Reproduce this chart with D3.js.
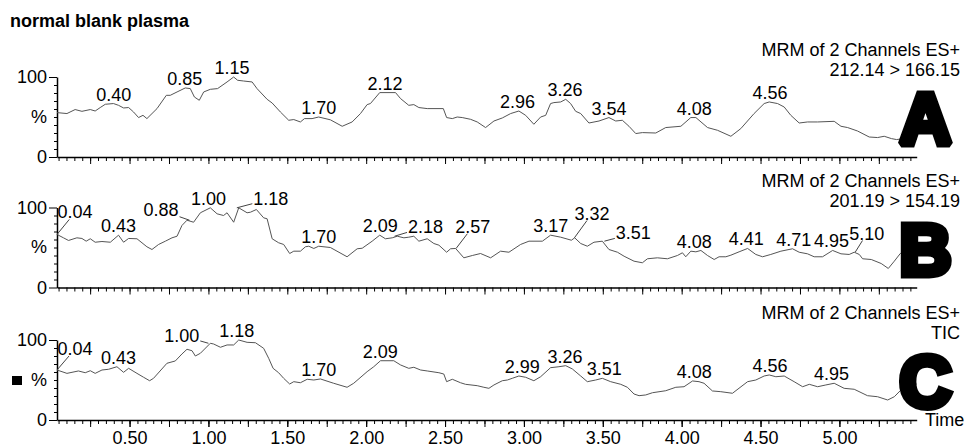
<!DOCTYPE html>
<html>
<head>
<meta charset="utf-8">
<script src="https://cdnjs.cloudflare.com/ajax/libs/d3/7.8.5/d3.min.js"></script>
<style>
    body { margin: 0; background: #fff; }
    svg text { font-family: "Liberation Sans", Arial, Helvetica, sans-serif; }
</style>
</head>
<body>
<div id="chart"></div>
<script>

/* * * * * * * * * * * * * *
*      chromatograms       *
* * * * * * * * * * * * * */

const title = "normal blank plasma";

// trace A : 212.14 > 166.15
const timeA = [0.04, 0.103, 0.155, 0.198, 0.251, 0.282, 0.314, 0.346, 0.398, 0.430, 0.462, 0.494, 0.525, 0.557, 0.585, 0.610,
    0.674, 0.733, 0.758, 0.801, 0.853, 0.885, 0.911, 0.942, 0.970, 1.012, 1.058, 1.118, 1.160, 1.185, 1.223, 1.277, 1.308,
    1.372, 1.404, 1.456, 1.509, 1.541, 1.583, 1.609, 1.657, 1.699, 1.773, 1.848, 1.911, 1.964, 2.006, 2.027, 2.086, 2.186,
    2.218, 2.270, 2.302, 2.334, 2.387, 2.489, 2.510, 2.546, 2.577, 2.609, 2.662, 2.704, 2.757, 2.810, 2.863, 2.916, 2.968,
    3.011, 3.063, 3.106, 3.138, 3.169, 3.190, 3.233, 3.265, 3.296, 3.328, 3.360, 3.412, 3.476, 3.539, 3.582, 3.624, 3.666,
    3.709, 3.751, 3.836, 3.899, 3.995, 4.058, 4.090, 4.164, 4.227, 4.312, 4.375, 4.459, 4.523, 4.555, 4.608, 4.650, 4.692,
    4.745, 4.798, 4.862, 4.967, 5.010, 5.052, 5.115, 5.189, 5.242, 5.284, 5.330, 5.362, 5.411, 5.49];
const pctA = [55.5, 54.3, 59.3, 57.1, 59.3, 57.5, 61.8, 65.9, 66.8, 64.6, 61.3, 61.8, 56.3, 49.3, 52.1, 48.0,
    60.5, 77.1, 77.1, 81.3, 86.3, 85.5, 75.0, 70.9, 81.3, 84.6, 85.5, 93.8, 100, 95.9, 95.0, 93.8, 85.5,
    72.1, 67.5, 56.3, 45.9, 46.8, 43.8, 48.0, 48.0, 50.0, 46.5, 38.4, 43.8, 54.3, 65.5, 66.8, 80.5, 80.5,
    73.0, 64.6, 65.5, 61.8, 60.5, 60.5, 49.3, 48.0, 50.0, 49.3, 47.1, 43.8, 36.8, 45.0, 48.8, 54.3, 57.5,
    52.1, 40.9, 50.0, 52.1, 66.8, 68.0, 68.8, 72.1, 66.8, 57.1, 54.3, 42.5, 45.0, 49.3, 45.0, 45.9, 38.4,
    29.3, 30.5, 30.0, 36.8, 38.4, 49.3, 49.3, 36.8, 33.4, 25.9, 35.5, 54.3, 66.8, 68.8, 66.8, 62.5, 52.1,
    42.5, 43.8, 43.8, 44.6, 38.4, 36.8, 32.5, 25.0, 24.3, 25.9, 23.0, 21.8, 23.0, 22.0];
const peaksA = [0.40, 0.85, 1.15, 1.70, 2.12, 2.96, 3.26, 3.54, 4.08, 4.56];

// trace B : 201.19 > 154.19
const timeB = [0.04, 0.081, 0.113, 0.166, 0.198, 0.225, 0.251, 0.282, 0.325, 0.378, 0.430, 0.462, 0.494, 0.547, 0.610, 0.642,
    0.684, 0.727, 0.769, 0.801, 0.832, 0.864, 0.906, 0.949, 1.012, 1.055, 1.096, 1.118, 1.160, 1.192, 1.245, 1.266, 1.304,
    1.350, 1.372, 1.404, 1.445, 1.477, 1.515, 1.541, 1.583, 1.615, 1.636, 1.668, 1.699, 1.773, 1.879, 1.943, 1.975, 2.038,
    2.086, 2.122, 2.165, 2.197, 2.239, 2.270, 2.302, 2.334, 2.387, 2.429, 2.461, 2.510, 2.535, 2.567, 2.619, 2.673, 2.725,
    2.789, 2.852, 2.905, 2.979, 3.032, 3.117, 3.169, 3.233, 3.301, 3.322, 3.360, 3.402, 3.444, 3.497, 3.539, 3.593, 3.635,
    3.698, 3.751, 3.783, 3.846, 3.910, 3.973, 4.005, 4.026, 4.058, 4.090, 4.122, 4.164, 4.206, 4.237, 4.280, 4.312, 4.364,
    4.418, 4.470, 4.513, 4.565, 4.629, 4.703, 4.745, 4.798, 4.840, 4.893, 4.957, 5.010, 5.062, 5.094, 5.126, 5.147, 5.202,
    5.265, 5.310, 5.348, 5.386, 5.49];
const pctB = [66.3, 62.1, 58.8, 62.1, 61.3, 57.9, 60.9, 56.6, 57.5, 56.6, 65.4, 56.6, 61.3, 60.9, 50.9, 47.5,
    53.8, 57.9, 62.1, 64.1, 77.5, 84.1, 81.6, 93.4, 99.6, 92.1, 90.0, 93.4, 81.6, 99.6, 93.4, 94.1, 97.5,
    87.1, 85.9, 60.9, 55.9, 53.8, 42.5, 45.4, 45.4, 50.9, 51.6, 48.8, 51.6, 50.0, 38.4, 48.4, 49.1, 57.9,
    65.4, 60.9, 62.1, 64.1, 62.1, 62.9, 64.1, 57.9, 60.9, 55.0, 52.9, 44.1, 48.4, 48.8, 37.1, 40.0, 42.5,
    37.1, 45.4, 44.1, 53.8, 57.9, 57.9, 65.4, 62.9, 59.1, 62.1, 55.0, 51.6, 56.6, 57.9, 47.5, 44.1, 39.1,
    32.9, 30.9, 35.9, 37.1, 35.9, 40.0, 43.4, 38.4, 45.4, 44.6, 46.3, 40.0, 35.0, 38.4, 38.4, 40.4, 44.6,
    48.8, 41.3, 38.4, 41.3, 45.4, 48.4, 44.1, 42.1, 38.4, 38.4, 46.3, 42.1, 41.3, 44.1, 41.3, 35.9, 35.0,
    30.0, 23.8, 32.9, 42.5, 50.0];
const peaksB = [0.04, 0.43, 0.88, 1.00, 1.18, 1.70, 2.09, 2.18, 2.57, 3.17, 3.32, 3.51, 4.08, 4.41, 4.71, 4.95, 5.10];

// trace C : TIC
const timeC = [0.04, 0.103, 0.176, 0.219, 0.251, 0.282, 0.325, 0.367, 0.420, 0.462, 0.494, 0.547, 0.589, 0.627, 0.652,
    0.737, 0.790, 0.832, 0.864, 0.896, 0.917, 0.949, 1.012, 1.033, 1.076, 1.118, 1.160, 1.192, 1.245, 1.298, 1.350,
    1.382, 1.410, 1.445, 1.477, 1.515, 1.541, 1.583, 1.626, 1.668, 1.710, 1.794, 1.879, 1.921, 2.006, 2.048, 2.091,
    2.175, 2.218, 2.270, 2.302, 2.345, 2.387, 2.461, 2.492, 2.510, 2.546, 2.598, 2.630, 2.704, 2.746, 2.778, 2.810,
    2.863, 2.895, 2.926, 2.968, 3.011, 3.063, 3.106, 3.169, 3.222, 3.265, 3.307, 3.360, 3.402, 3.455, 3.497, 3.550,
    3.614, 3.656, 3.698, 3.730, 3.772, 3.815, 3.899, 3.963, 4.015, 4.069, 4.110, 4.142, 4.195, 4.248, 4.322, 4.418,
    4.470, 4.523, 4.555, 4.597, 4.650, 4.713, 4.767, 4.809, 4.862, 4.914, 4.967, 5.030, 5.094, 5.178, 5.242, 5.306,
    5.348, 5.390, 5.49];
const pctC = [62.5, 58.3, 61.3, 59.1, 61.6, 58.3, 62.5, 63.4, 66.6, 59.6, 64.6, 58.3, 53.4, 49.1, 52.1,
    70.9, 73.8, 82.5, 88.4, 86.6, 80.0, 83.4, 95.9, 95.0, 90.9, 93.8, 93.8, 100, 97.1, 96.6, 89.6,
    77.1, 64.6, 59.1, 52.1, 45.0, 47.9, 46.6, 50.9, 50.0, 51.3, 45.9, 40.9, 45.9, 60.4, 66.6, 74.1,
    74.1, 68.8, 64.6, 65.9, 62.5, 61.3, 59.1, 57.5, 47.9, 50.9, 46.6, 44.6, 42.9, 40.9, 39.6, 43.8,
    49.1, 50.0, 52.1, 55.0, 53.4, 49.1, 54.1, 65.4, 66.6, 67.9, 63.8, 55.0, 47.9, 50.0, 52.1, 47.9,
    44.6, 40.9, 32.5, 30.4, 31.3, 34.1, 36.6, 40.9, 41.6, 48.8, 47.9, 45.9, 36.3, 35.4, 33.4, 47.9,
    50.0, 55.0, 56.3, 54.1, 55.0, 47.9, 41.6, 44.6, 41.6, 43.8, 45.9, 39.6, 38.4, 30.4, 29.1, 25.0,
    29.1, 37.5, 45.0];
const peaksC = [0.04, 0.43, 1.00, 1.18, 1.70, 2.09, 2.99, 3.26, 3.51, 4.08, 4.56, 4.95];

const channelA = ["MRM of 2 Channels ES+", "212.14 > 166.15"];
const channelB = ["MRM of 2 Channels ES+", "201.19 > 154.19"];
const channelC = ["MRM of 2 Channels ES+", "TIC"];

// labels pushed aside with a leader line: offset of label (centre, baseline) from the apex, px
const leadersB = {"0.04": [18, -16], "0.88": [-28.5, -4], "1.18": [34, -3], "2.18": [31, -3.4],
    "2.57": [16.6, -15.7], "3.32": [17.7, -18.3], "3.51": [29, -1.7], "5.10": [11.7, -12.7]};
const leadersC = {"0.04": [18, -15], "1.00": [-26.7, -1.6]};

const FONT = '"Liberation Sans", Arial, Helvetica, sans-serif';
const fmt = d3.format(".2f");

const svg = d3.select("#chart").append("svg")
    .attr("width", 971)
    .attr("height", 447);

// shared time scale
const x = d3.scaleLinear()
    .domain([0.04, 5.49])
    .range([57, 916.7]);

svg.append("text")
    .attr("x", 10)
    .attr("y", 26.5)
    .style("font-size", "18px")
    .style("font-weight", "bold")
    .text(title);


class ChromPanel {

    constructor(_top, _times, _values, _peaks, _channel, _letter, _leaders, _isLast) {
        this.top = _top;
        this.times = _times;
        this.values = _values;
        this.peaks = _peaks;
        this.channel = _channel;
        this.letter = _letter;
        this.leaders = _leaders;
        this.isLast = _isLast;

        this.initVis();
    }

    /*
     * axes, headers
     */
    initVis() {
        let vis = this;

        vis.height = 80;
        vis.bottom = vis.top + vis.height;
        vis.fontSize = 18;

        vis.y = d3.scaleLinear()
            .domain([0, 100])
            .range([vis.bottom, vis.top]);

        vis.g = svg.append("g");

        // x axis: minor ticks every 0.05, bigger every 0.25, labels every 0.5 (last panel only)
        let minor = d3.range(1, 110).map(i => +(i * 0.05).toFixed(2)).filter(d => d < 5.49);
        let major = d3.range(1, 22).map(i => i * 0.25);
        let labelled = d3.range(1, 11).map(i => i * 0.5);

        vis.g.append("g")
            .attr("transform", "translate(0," + vis.bottom + ")")
            .call(d3.axisBottom(x).tickValues(minor).tickSize(4).tickSizeOuter(0).tickFormat(""))
            .call(g => g.select(".domain").attr("stroke-width", 1.5));

        vis.g.append("g")
            .attr("transform", "translate(0," + vis.bottom + ")")
            .call(d3.axisBottom(x).tickValues(major).tickSize(7).tickFormat(""))
            .call(g => g.select(".domain").remove());

        if (vis.isLast) {
            vis.g.append("g")
                .attr("transform", "translate(0," + vis.bottom + ")")
                .call(d3.axisBottom(x).tickValues(labelled).tickSize(7).tickPadding(4).tickFormat(fmt))
                .call(g => g.select(".domain").remove())
                .attr("font-family", FONT)
                .attr("font-size", vis.fontSize);

            vis.g.append("text")
                .attr("x", 925)
                .attr("y", vis.bottom + 6)
                .style("font-size", vis.fontSize + "px")
                .text("Time");

            vis.g.append("rect")
                .attr("x", 12)
                .attr("y", vis.y(50) - 4)
                .attr("width", 10)
                .attr("height", 9)
                .attr("fill", "#000");
        }

        // y axis
        vis.g.append("g")
            .attr("transform", "translate(57,0)")
            .call(d3.axisLeft(vis.y).tickValues(d3.range(10, 100, 10)).tickSize(3).tickSizeOuter(0).tickFormat(""))
            .call(g => g.select(".domain").attr("stroke-width", 1.5));

        vis.g.append("g")
            .attr("transform", "translate(57,0)")
            .call(d3.axisLeft(vis.y).tickValues([0, 100]).tickSize(8).tickPadding(2).tickFormat(d3.format("d")))
            .call(g => g.select(".domain").remove())
            .attr("font-family", FONT)
            .attr("font-size", vis.fontSize);

        vis.g.append("text")
            .attr("x", 47)
            .attr("y", vis.y(50))
            .attr("dy", "0.32em")
            .attr("text-anchor", "end")
            .style("font-size", vis.fontSize + "px")
            .text("%");

        // channel header
        vis.g.selectAll(".channel")
            .data(vis.channel)
            .join("text")
            .attr("class", "channel")
            .attr("x", 960)
            .attr("y", (d, i) => vis.top - 21 + i * 20)
            .attr("text-anchor", "end")
            .style("font-size", vis.fontSize + "px")
            .text(d => d);

        vis.wrangleData();
    }

    /*
     * apex of each labelled peak
     */
    wrangleData() {
        let vis = this;

        vis.points = vis.times.map((t, i) => ({t: t, v: vis.values[i]}));

        let bis = d3.bisector(d => d.t).left;
        let interp = function (t) {
            let i = Math.max(1, Math.min(vis.points.length - 1, bis(vis.points, t)));
            let a = vis.points[i - 1], b = vis.points[i];
            return a.v + (b.v - a.v) * (t - a.t) / (b.t - a.t);
        };

        vis.peakData = vis.peaks.map(function (p) {
            let best = interp(p);
            vis.points.forEach(function (d) {
                if (Math.abs(d.t - p) <= 0.025 && d.v > best) best = d.v;
            });
            let key = fmt(p);
            return {t: p, label: key, v: best, leader: vis.leaders[key] || null};
        });

        vis.updateVis();
    }

    /*
     * trace, peak labels, letter
     */
    updateVis() {
        let vis = this;

        let line = d3.line()
            .x(d => x(d.t))
            .y(d => vis.y(d.v));

        vis.g.append("path")
            .datum(vis.points)
            .attr("fill", "none")
            .attr("stroke", "#555")
            .attr("stroke-width", 1)
            .attr("d", line);

        vis.g.selectAll(".peak")
            .data(vis.peakData)
            .join("text")
            .attr("class", "peak")
            .attr("text-anchor", "middle")
            .style("font-size", vis.fontSize + "px")
            .attr("x", d => x(d.t) + (d.leader ? d.leader[0] : 0))
            .attr("y", d => vis.y(d.v) + (d.leader ? d.leader[1] : -3))
            .text(d => d.label)
            .each(function (d) {
                if (!d.leader) return;
                // leader from the apex towards the label centre, clipped at the label box
                let w = this.getComputedTextLength();
                let ax = x(d.t), ay = vis.y(d.v);
                let cx = ax + d.leader[0], base = ay + d.leader[1];
                let x0 = cx - w / 2 - 1, x1 = cx + w / 2 + 1, y0 = base - 13, y1 = base + 1;
                let mx = cx - ax, my = (y0 + y1) / 2 - ay;
                let s = 0;
                if (mx > 0) s = Math.max(s, (x0 - ax) / mx);
                if (mx < 0) s = Math.max(s, (x1 - ax) / mx);
                if (my < 0) s = Math.max(s, (y1 - ay) / my);
                s = Math.min(s, 1);
                vis.g.append("line")
                    .attr("x1", ax).attr("y1", ay)
                    .attr("x2", ax + s * mx).attr("y2", ay + s * my)
                    .attr("stroke", "#444")
                    .attr("stroke-width", 1);
            });

        // panel letter
        vis.g.append("text")
            .attr("x", 925.5)
            .attr("y", vis.bottom - 13)
            .attr("text-anchor", "middle")
            .style("font-size", "72px")
            .style("font-weight", "bold")
            .style("stroke", "#000")
            .style("stroke-width", 7)
            .style("stroke-linejoin", "miter")
            .style("stroke-miterlimit", 1.5)
            .text(vis.letter);
    }
}

new ChromPanel(77, timeA, pctA, peaksA, channelA, "A", {}, false);
new ChromPanel(207.5, timeB, pctB, peaksB, channelB, "B", leadersB, false);
new ChromPanel(340, timeC, pctC, peaksC, channelC, "C", leadersC, true);

</script>
</body>
</html>
